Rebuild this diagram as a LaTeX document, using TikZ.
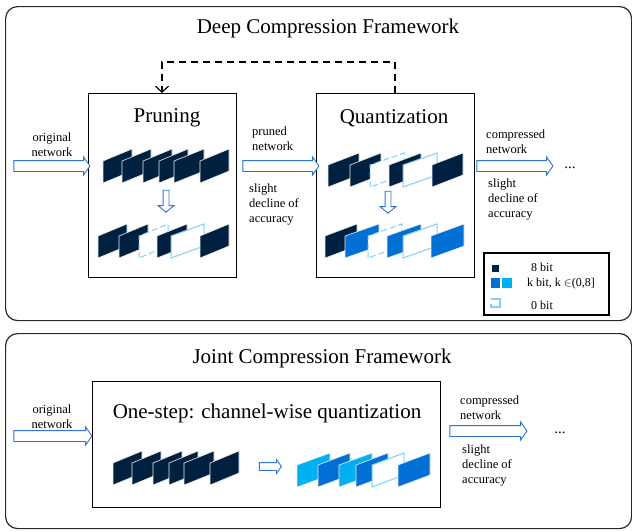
\documentclass[tikz,border=0pt]{standalone}
\usepackage{fontspec}
\setmainfont{Liberation Serif}
\usetikzlibrary{shapes.arrows,arrows.meta}
\definecolor{navy}{RGB}{0,32,64}
\definecolor{midblue}{RGB}{0,112,212}
\definecolor{cyanb}{RGB}{0,176,240}
\definecolor{lightc}{RGB}{125,208,248}
\definecolor{arrowblue}{RGB}{46,117,214}
\definecolor{framec}{RGB}{40,40,40}
\newcommand\pgram[4][]{\path[#1] (#2,#3) -- ++(0,-22) -- ++(#4,-12) -- ++(0,22) -- cycle;}
\begin{document}
\begin{tikzpicture}[x=1pt,y=-1pt,
  outer/.style={draw=framec,line width=1.2pt,rounded corners=12pt,inner sep=0pt,anchor=north west},
  inbox/.style={draw=black,line width=1pt,inner sep=0pt,anchor=north west},
  title/.style={font=\fontsize{21}{25}\selectfont,inner sep=0pt},
  lbl/.style={font=\fontsize{12.5}{15}\selectfont,inner sep=0pt,align=left,anchor=west},
  hollow/.style={shape=single arrow,draw=arrowblue,fill=white,line width=0.9pt,inner xsep=0pt,single arrow head indent=0pt},
  harrow/.style={hollow,minimum height=76pt,inner ysep=5pt,single arrow head extend=3.5pt,single arrow tip angle=110},
  varrow/.style={hollow,rotate=-90,minimum height=22pt,inner ysep=2.5pt,single arrow head extend=5pt,single arrow tip angle=100},
  dk/.style={fill=navy,draw=white!85!gray,line width=0.6pt},
  mb/.style={fill=midblue,draw=white!85!gray,line width=0.6pt},
  cy/.style={fill=cyanb,draw=white!85!gray,line width=0.6pt},
  pr/.style={fill=white,draw=lightc,line width=1pt},
  prd/.style={pr,dash pattern=on 6pt off 3pt},
  leg/.style={font=\fontsize{12}{14}\selectfont,inner sep=0pt},
  fb/.style={draw=black,line width=1.2pt,dash pattern=on 7pt off 5pt,-{Straight Barb[length=6pt,width=13pt]}}]
\useasboundingbox (0,0) rectangle (632,531);

% outer frames
\node[outer,minimum width=626pt,minimum height=314pt] (deep) at (5,6) {};
\node[outer,minimum width=626pt,minimum height=195pt] (joint) at (5,333) {};

% titles
\node[title] (deeptitle) at (328,28) {Deep Compression Framework};
\node[title] (jointtitle) at (322,358) {Joint Compression Framework};

% inner boxes
\node[inbox,minimum width=148pt,minimum height=184pt] (prune) at (88,93) {};
\node[inbox,minimum width=158pt,minimum height=184pt] (quant) at (316,93) {};
\node[inbox,minimum width=348pt,minimum height=126pt] (onestep) at (92,381) {};
\node[draw=black,line width=1.5pt,inner sep=0pt,anchor=north west,minimum width=125pt,minimum height=62pt] (legend) at (483,252) {};

\node[title] (prunetitle) at (167,118) {Pruning};
\node[title] (quanttitle) at (394,118) {Quantization};
\node[title] (onesteptitle) at (267,413) {One-step: channel-wise quantization};

% feedback dashed arrow
\coordinate (fbq) at (395,0);
\coordinate (fbp) at (162,0);
\coordinate (fbtop) at (300,62);
\draw[fb] (quant.north -| fbq) |- (fbtop) -| (prune.north -| fbp);

% horizontal hollow arrows
\node[harrow] (a1) at (50,166) {};
\node[harrow] (a2) at (279,166) {};
\node[harrow] (a3) at (513,166) {};
\node[harrow,minimum height=78pt] (a4) at (51,436) {};
\node[harrow,minimum height=77pt] (a5) at (486.5,431) {};

% labels
\node[lbl,align=center,anchor=center] (l1) at (52,145) {original\\network};
\node[lbl] (l2) at (252,139) {pruned\\network};
\node[lbl] (l3) at (249,205) {slight\\decline of\\accuracy};
\node[lbl] (l4) at (486,142) {compressed\\network};
\node[lbl] (l5) at (488,200) {slight\\decline of\\accuracy};
\node[font=\fontsize{15}{18}\selectfont,inner sep=0pt] (d1) at (570,168) {...};
\node[lbl,align=center,anchor=center] (l6) at (52,417) {original\\network};
\node[lbl] (l7) at (460,408) {compressed\\network};
\node[lbl] (l8) at (462,466) {slight\\decline of\\accuracy};
\node[font=\fontsize{15}{18}\selectfont,inner sep=0pt] (d2) at (560,433) {...};

% pruning: top row
\pgram[dk]{103}{183}{29}
\pgram[dk]{122}{183}{29}
\pgram[dk]{143}{183}{29}
\pgram[dk]{159}{183}{29}
\pgram[dk]{174}{183}{30}
\pgram[dk]{200}{183}{29}
\node[varrow] (pd) at (166,200) {};
% pruning: bottom row
\pgram[dk]{98}{258}{29}
\pgram[dk]{119}{258}{29}
\pgram[prd]{139}{258}{29}
\pgram[dk]{157}{258}{30}
\pgram[pr]{171}{258}{33}
\pgram[dk]{200}{258}{29}

% quantization: top row
\pgram[dk]{328}{187}{31}
\pgram[dk]{350}{187}{31}
\pgram[prd]{370}{187}{34}
\pgram[dk]{389}{187}{32}
\pgram[pr]{403}{187}{34}
\pgram[dk]{432}{187}{31}
\node[varrow] (qd) at (388,201) {};
% quantization: bottom row
\pgram[dk]{325}{258}{32}
\pgram[mb]{345}{258}{34}
\pgram[prd]{368}{258}{34}
\pgram[mb]{387}{258}{34}
\pgram[pr]{403}{258}{34}
\pgram[mb]{431}{258}{33}

% legend
\fill[navy] (492,265) rectangle (499,272);
\fill[midblue] (491,278) rectangle (500,288);
\fill[cyanb] (502,278) rectangle (512,288);
\draw[lightc,line width=1.2pt] (491,299) -- (500,299) -- (500,307) -- (491,307) -- (491,304);
\node[leg] (k8) at (542,267) {8 bit};
\node[leg,anchor=west] (kk) at (527,284) {k bit, k $\in$(0,8]};
\node[leg] (k0) at (542,305) {0 bit};

% joint: left row
\pgram[dk]{113}{485}{29}
\pgram[dk]{132}{485}{29}
\pgram[dk]{153}{485}{29}
\pgram[dk]{169}{485}{29}
\pgram[dk]{184}{485}{30}
\pgram[dk]{210}{485}{29}
\node[hollow,minimum height=22pt,inner ysep=3.5pt,single arrow head extend=3pt,single arrow tip angle=110] (ja) at (269,466.5) {};
% joint: right row
\pgram[cy]{297}{487}{33}
\pgram[mb]{318}{487}{32}
\pgram[cy]{339}{487}{33}
\pgram[mb]{356}{487}{32}
\pgram[pr]{372}{487}{32}
\pgram[mb]{398}{487}{32}
\end{tikzpicture}
\end{document}
